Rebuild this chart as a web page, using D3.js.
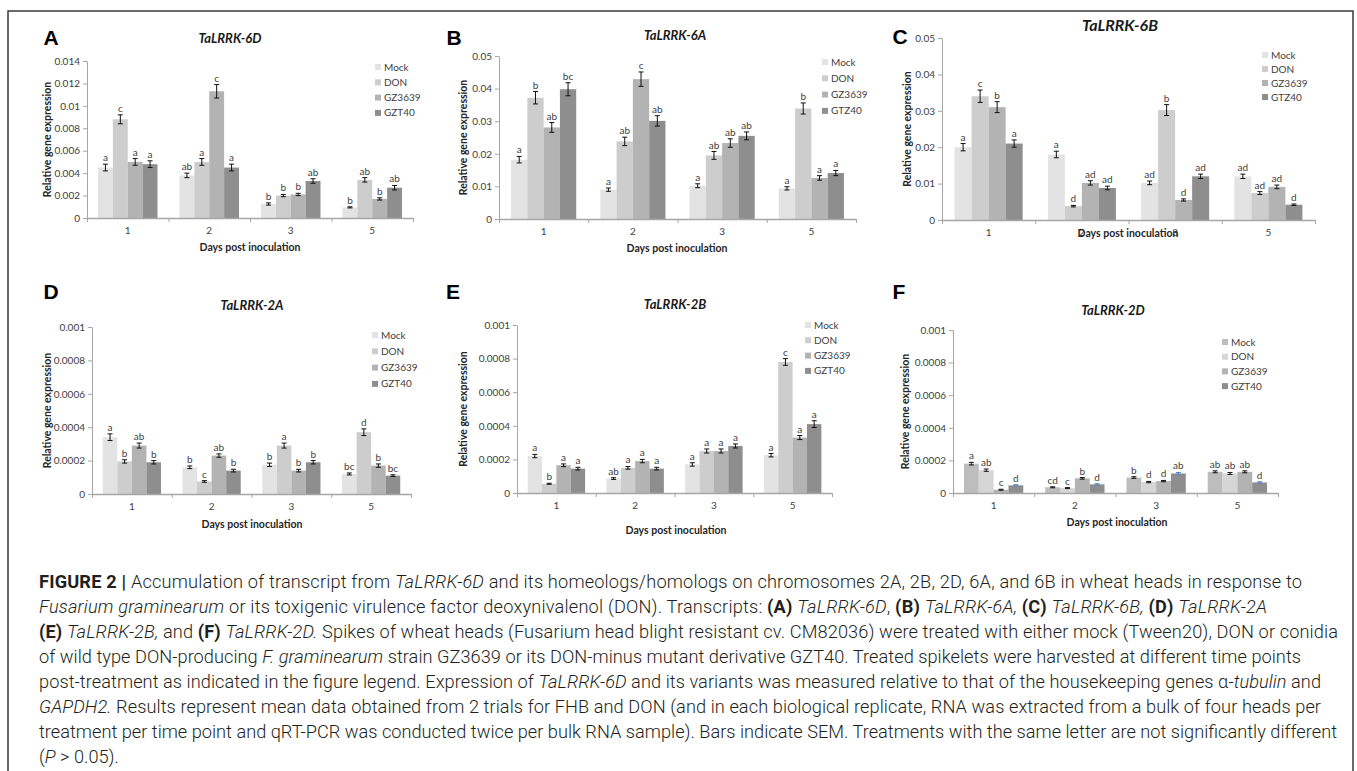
<!DOCTYPE html>
<html>
<head>
<meta charset="utf-8">
<script src="https://cdn.jsdelivr.net/npm/d3@7"></script>
<style>
body{margin:0;background:#fff;}
svg{display:block;font-family:Lato,"Open Sans",sans-serif;}
</style>
</head>
<body>
<svg id="fig" width="1357" height="771"></svg>
<script>
'use strict';
// categories
var days = ["1","2","3","5"];
var legendGZT = ["Mock","DON","GZ3639","GZT40"];
var legendGTZ = ["Mock","DON","GZ3639","GTZ40"];

// y tick labels
var ticks6D = [0,0.002,0.004,0.006,0.008,0.01,0.012,0.014];
var ticks6 = [0,0.01,0.02,0.03,0.04,0.05];
var ticks2 = [0,0.0002,0.0004,0.0006,0.0008,0.001];

// values per day, order: Mock, DON, GZ3639, GZT40
var mean6D = [[0.0045,0.0088,0.0050,0.0048],[0.0038,0.0050,0.0113,0.0045],[0.00125,0.0020,0.0021,0.0033],[0.00095,0.0034,0.0017,0.0027]];
var sem6D  = [[0.0003,0.0004,0.0003,0.0003],[0.0002,0.0003,0.0006,0.0003],[0.0001,0.0001,0.0001,0.0002],[0.00005,0.0002,0.0001,0.0002]];
var sig6D  = [["a","c","a","a"],["ab","a","c","a"],["b","b","b","ab"],["b","ab","b","ab"]];

var mean6A = [[0.0182,0.0372,0.0281,0.0398],[0.0090,0.0238,0.0429,0.0301],[0.0102,0.0195,0.0233,0.0255],[0.0094,0.0339,0.0126,0.0141]];
var sem6A  = [[0.0010,0.0019,0.0015,0.0020],[0.0005,0.0013,0.0022,0.0016],[0.0006,0.0012,0.0013,0.0012],[0.0005,0.0017,0.0007,0.0008]];
var sig6A  = [["a","b","ab","bc"],["a","ab","c","ab"],["a","ab","ab","ab"],["a","b","a","a"]];

var mean6B = [[0.0200,0.0340,0.0310,0.0210],[0.0180,0.0038,0.0102,0.0088],[0.0102,0.0302,0.0055,0.0120],[0.0120,0.0074,0.0091,0.0042]];
var sem6B  = [[0.0010,0.0017,0.0015,0.0010],[0.0009,0.0002,0.0006,0.0005],[0.0005,0.0015,0.0003,0.0006],[0.0006,0.0004,0.0005,0.0002]];
var sig6B  = [["a","c","b","a"],["a","d","ad","ad"],["ad","b","d","ad"],["ad","ad","ad","d"]];

var mean2A = [[0.00034,0.000195,0.00029,0.00019],[0.00016,0.000075,0.00023,0.00014],[0.000175,0.00029,0.00014,0.00019],[0.00012,0.00037,0.00017,0.00011]];
var sem2A  = [[0.00002,0.00001,0.000015,0.00001],[0.000008,0.000005,0.00001,0.000008],[0.00001,0.000015,0.000008,0.00001],[0.000006,0.00002,0.00001,0.000005]];
var sig2A  = [["a","b","ab","b"],["b","c","ab","b"],["b","a","b","b"],["bc","d","b","bc"]];

var mean2B = [[0.00022,0.000055,0.000165,0.000145],[0.000086,0.00015,0.00019,0.000145],[0.00017,0.00025,0.00025,0.00028],[0.000225,0.00078,0.00033,0.00041]];
var sem2B  = [[0.00001,0.000003,0.000008,0.000008],[0.000005,0.000008,0.00001,0.000008],[0.00001,0.000012,0.000012,0.000012],[0.00001,0.00002,0.000012,0.00002]];
var sig2B  = [["a","b","a","a"],["ab","a","a","a"],["a","a","a","a"],["a","c","a","a"]];

var mean2D = [[0.00018,0.00014,0.00002,0.000047],[0.000035,0.00003,0.00009,0.000053],[0.000095,0.000067,0.000073,0.00012],[0.00013,0.00012,0.00013,0.000065]];
var sem2D  = [[0.000008,0.000007,0.000003,0.000004],[0.000003,0.000003,0.000005,0.000004],[0.000005,0.000004,0.000004,0.000006],[0.000006,0.000006,0.000006,0.000004]];
var sig2D  = [["a","ab","c","d"],["cd","c","b","d"],["b","d","d","ab"],["ab","ab","ab","d"]];

var greys = ["#e3e3e3","#cdcdcd","#b3b3b3","#8e8e8e"];
var greysF = ["#bdbdbd","#d6d6d6","#b3b3b3","#8e8e8e"];

var panels = [
    {tag:"A",title:"TaLRRK-6D",mean:mean6D,sem:sem6D,sig:sig6D,ticks:ticks6D,legend:legendGZT,colors:greys,
     x0:87,x1:413,y0:218,y1:61,tagAt:[51,37],titleAt:[230,38],titleSize:13,yLabX:47,xLabAt:[250,247],leg:[375,67,15.3]},
    {tag:"B",title:"TaLRRK-6A",mean:mean6A,sem:sem6A,sig:sig6A,ticks:ticks6,legend:legendGTZ,colors:greys,
     x0:499,x1:856,y0:219,y1:56,tagAt:[454,37],titleAt:[675,35],titleSize:13,yLabX:463,xLabAt:[677,248],leg:[822,62,16.3]},
    {tag:"C",title:"TaLRRK-6B",mean:mean6B,sem:sem6B,sig:sig6B,ticks:ticks6,legend:legendGTZ,colors:greys,
     x0:942,x1:1315,y0:220,y1:38,tagAt:[900,36],titleAt:[1120,25],titleSize:16,yLabX:907,xLabAt:[1128,233],leg:[1262,55,14]},
    {tag:"D",title:"TaLRRK-2A",mean:mean2A,sem:sem2A,sig:sig2A,ticks:ticks2,legend:legendGZT,colors:greys,
     x0:92,x1:411,y0:494,y1:327,tagAt:[51,291],titleAt:[252,305],titleSize:13,yLabX:47,xLabAt:[252,524],leg:[372,335,16.3]},
    {tag:"E",title:"TaLRRK-2B",mean:mean2B,sem:sem2B,sig:sig2B,ticks:ticks2,legend:legendGZT,colors:greys,
     x0:517,x1:832,y0:493,y1:325,tagAt:[453,291],titleAt:[675,304],titleSize:13,yLabX:463,xLabAt:[676,530],leg:[805,325,15.3]},
    {tag:"F",title:"TaLRRK-2D",mean:mean2D,sem:sem2D,sig:sig2D,ticks:ticks2,legend:legendGZT,colors:greysF,errLast:"#4f86c6",
     x0:953,x1:1278,y0:493,y1:330,tagAt:[899,291],titleAt:[1113,310],titleSize:13,yLabX:905,xLabAt:[1117,522],leg:[1222,342,14.7]}
];

var svg = d3.select("#fig");

// frame round the figure
svg.append("path")
    .attr("d","M8,780V11H1353V780")
    .attr("fill","none")
    .attr("stroke","#3a3a3a")
    .attr("stroke-width",1.5);

var drawPanel = function(p){
    var g = svg.append("g");
    var x = d3.scaleBand().domain(days).range([p.x0,p.x1]).paddingInner(0.27).paddingOuter(0.135);
    var xs = d3.scaleBand().domain(d3.range(4)).range([0,x.bandwidth()]);
    var xb = d3.scaleLinear().domain([0,days.length]).range([p.x0,p.x1]);
    var y = d3.scaleLinear().domain([0,d3.max(p.ticks)]).range([p.y0,p.y1]);

    // y axis
    var ya = g.append("g")
        .attr("transform","translate("+p.x0+",0)")
        .call(d3.axisLeft(y).tickValues(p.ticks).tickFormat(d3.format("~g")).tickSize(4).tickPadding(3).tickSizeOuter(0));
    ya.select(".domain").attr("stroke","#a6a6a6");
    ya.selectAll(".tick line").attr("stroke","#a6a6a6");
    ya.selectAll("text").attr("fill","#404040").style("font-size","10px").style("font-family","Lato,sans-serif");

    // bars
    var groups = g.selectAll(".day").data(days).enter().append("g")
        .attr("transform",function(d){ return "translate("+x(d)+",0)"; });
    groups.each(function(day,i){
        var gg = d3.select(this);
        var rows = p.mean[i].map(function(m,j){ return {m:m,s:p.sem[i][j],t:p.sig[i][j],j:j}; });
        gg.selectAll("rect").data(rows).enter().append("rect")
            .attr("x",function(d){ return xs(d.j); })
            .attr("width",xs.bandwidth())
            .attr("y",function(d){ return y(d.m); })
            .attr("height",function(d){ return p.y0-y(d.m); })
            .attr("fill",function(d){ return p.colors[d.j]; });
        var eb = gg.selectAll(".err").data(rows).enter().append("g")
            .attr("stroke",function(d){ return (p.errLast && d.j==3) ? p.errLast : "#111"; })
            .attr("stroke-width",1);
        eb.append("line")
            .attr("x1",function(d){ return xs(d.j)+xs.bandwidth()/2; })
            .attr("x2",function(d){ return xs(d.j)+xs.bandwidth()/2; })
            .attr("y1",function(d){ return y(d.m-d.s); })
            .attr("y2",function(d){ return y(d.m+d.s); });
        [-1,1].forEach(function(k){
            eb.append("line")
                .attr("x1",function(d){ return xs(d.j)+xs.bandwidth()/2-2.5; })
                .attr("x2",function(d){ return xs(d.j)+xs.bandwidth()/2+2.5; })
                .attr("y1",function(d){ return y(d.m+k*d.s); })
                .attr("y2",function(d){ return y(d.m+k*d.s); });
        });
        gg.selectAll(".sig").data(rows).enter().append("text")
            .attr("x",function(d){ return xs(d.j)+xs.bandwidth()/2; })
            .attr("y",function(d){ return y(d.m+d.s)-3; })
            .attr("text-anchor","middle")
            .attr("fill","#404040")
            .style("font-size","10px")
            .text(function(d){ return d.t; });
    });

    // x axis: boundary ticks, then labels
    var xa = g.append("g")
        .attr("transform","translate(0,"+p.y0+")")
        .call(d3.axisBottom(xb).tickValues(d3.range(days.length+1)).tickFormat("").tickSize(4).tickSizeOuter(0));
    xa.select(".domain").attr("stroke","#a6a6a6").attr("stroke-width",1.3);
    xa.selectAll(".tick line").attr("stroke","#a6a6a6");
    var xl = g.append("g")
        .attr("transform","translate(0,"+p.y0+")")
        .call(d3.axisBottom(x).tickSize(0).tickPadding(9));
    xl.select(".domain").remove();
    xl.selectAll("text").attr("fill","#404040").style("font-size","10px").style("font-family","Lato,sans-serif");

    // axis titles
    g.append("text")
        .attr("transform","translate("+p.yLabX+","+((p.y0+p.y1)/2)+") rotate(-90)")
        .attr("text-anchor","middle").attr("dy","0.35em")
        .attr("fill","#262626").style("font-size","10.5px").style("font-weight","bold")
        .text("Relative gene expression");
    g.append("text")
        .attr("x",p.xLabAt[0]).attr("y",p.xLabAt[1]).attr("dy","0.35em")
        .attr("text-anchor","middle")
        .attr("fill","#262626").style("font-size","10.5px").style("font-weight","bold")
        .text("Days post inoculation");

    // chart title and panel letter
    g.append("text")
        .attr("x",p.titleAt[0]).attr("y",p.titleAt[1]).attr("dy","0.35em")
        .attr("text-anchor","middle")
        .attr("fill","#1a1a1a").style("font-size",p.titleSize+"px").style("font-weight","bold").style("font-style","italic")
        .text(p.title);
    g.append("text")
        .attr("x",p.tagAt[0]).attr("y",p.tagAt[1]).attr("dy","0.36em")
        .attr("text-anchor","middle")
        .style("font-family","'Liberation Sans',Arial,sans-serif")
        .style("font-size","21px").style("font-weight","bold")
        .text(p.tag);

    // legend
    var lg = g.selectAll(".leg").data(p.legend).enter().append("g")
        .attr("transform",function(d,i){ return "translate("+p.leg[0]+","+(p.leg[1]+i*p.leg[2])+")"; });
    lg.append("rect").attr("x",0).attr("y",-3).attr("width",6).attr("height",6)
        .attr("fill",function(d,i){ return p.colors[i]; });
    lg.append("text").attr("x",9).attr("dy","0.35em")
        .attr("fill","#404040").style("font-size","10px")
        .text(function(d){ return d; });
};

panels.forEach(drawPanel);

// caption, broken into lines as in the figure
var caption = [
    [["b","FIGURE 2 | "],["","Accumulation of transcript from "],["i","TaLRRK-6D"],[""," and its homeologs/homologs on chromosomes 2A, 2B, 2D, 6A, and 6B in wheat heads in response to"]],
    [["i","Fusarium graminearum"],[""," or its toxigenic virulence factor deoxynivalenol (DON). Transcripts: "],["b","(A) "],["i","TaLRRK-6D"],["",", "],["b","(B) "],["i","TaLRRK-6A, "],["b","(C) "],["i","TaLRRK-6B, "],["b","(D) "],["i","TaLRRK-2A"]],
    [["b","(E) "],["i","TaLRRK-2B,"],[""," and "],["b","(F) "],["i","TaLRRK-2D."],[""," Spikes of wheat heads (Fusarium head blight resistant cv. CM82036) were treated with either mock (Tween20), DON or conidia"]],
    [["","of wild type DON-producing "],["i","F. graminearum"],[""," strain GZ3639 or its DON-minus mutant derivative GZT40. Treated spikelets were harvested at different time points"]],
    [["","post-treatment as indicated in the figure legend. Expression of "],["i","TaLRRK-6D"],[""," and its variants was measured relative to that of the housekeeping genes \u03b1-"],["i","tubulin"],[""," and"]],
    [["i","GAPDH2."],[""," Results represent mean data obtained from 2 trials for FHB and DON (and in each biological replicate, RNA was extracted from a bulk of four heads per"]],
    [["","treatment per time point and qRT-PCR was conducted twice per bulk RNA sample). Bars indicate SEM. Treatments with the same letter are not significantly different"]],
    [["","("],["i","P"],[""," > 0.05)."]]
];
// right end of each caption line in the figure (last line is left ragged)
var captionEnds = [1302,1267,1338,1301,1321,1321,1337,0];

var capX = 39;
var cap = svg.append("g")
    .style("font-family","Roboto,'Noto Sans',sans-serif")
    .style("font-weight","300")
    .style("font-size","18px")
    .attr("fill","#231f20");
var capLines = cap.selectAll("text").data(caption).enter().append("text")
    .attr("x",capX)
    .attr("y",function(d,i){ return 588+i*25; })
    .attr("xml:space","preserve");
capLines.each(function(line){
    var t = d3.select(this);
    line.forEach(function(seg){
        t.append("tspan")
            .style("font-weight",seg[0]=="b" ? "bold" : null)
            .style("font-style",seg[0]=="i" ? "italic" : null)
            .text(seg[1]);
    });
});
// pick a size that lets every line fit, then stretch the spacing to each line's end
var ratio = 10;
capLines.each(function(d,i){
    var w = this.getComputedTextLength();
    if(captionEnds[i] && w>0){ ratio = Math.min(ratio,(captionEnds[i]-capX)/w); }
});
if(ratio<10){ cap.style("font-size",(18*ratio).toFixed(2)+"px"); }
capLines.each(function(d,i){
    if(captionEnds[i]){
        d3.select(this).attr("textLength",captionEnds[i]-capX).attr("lengthAdjust","spacing");
    }
});
</script>
</body>
</html>
